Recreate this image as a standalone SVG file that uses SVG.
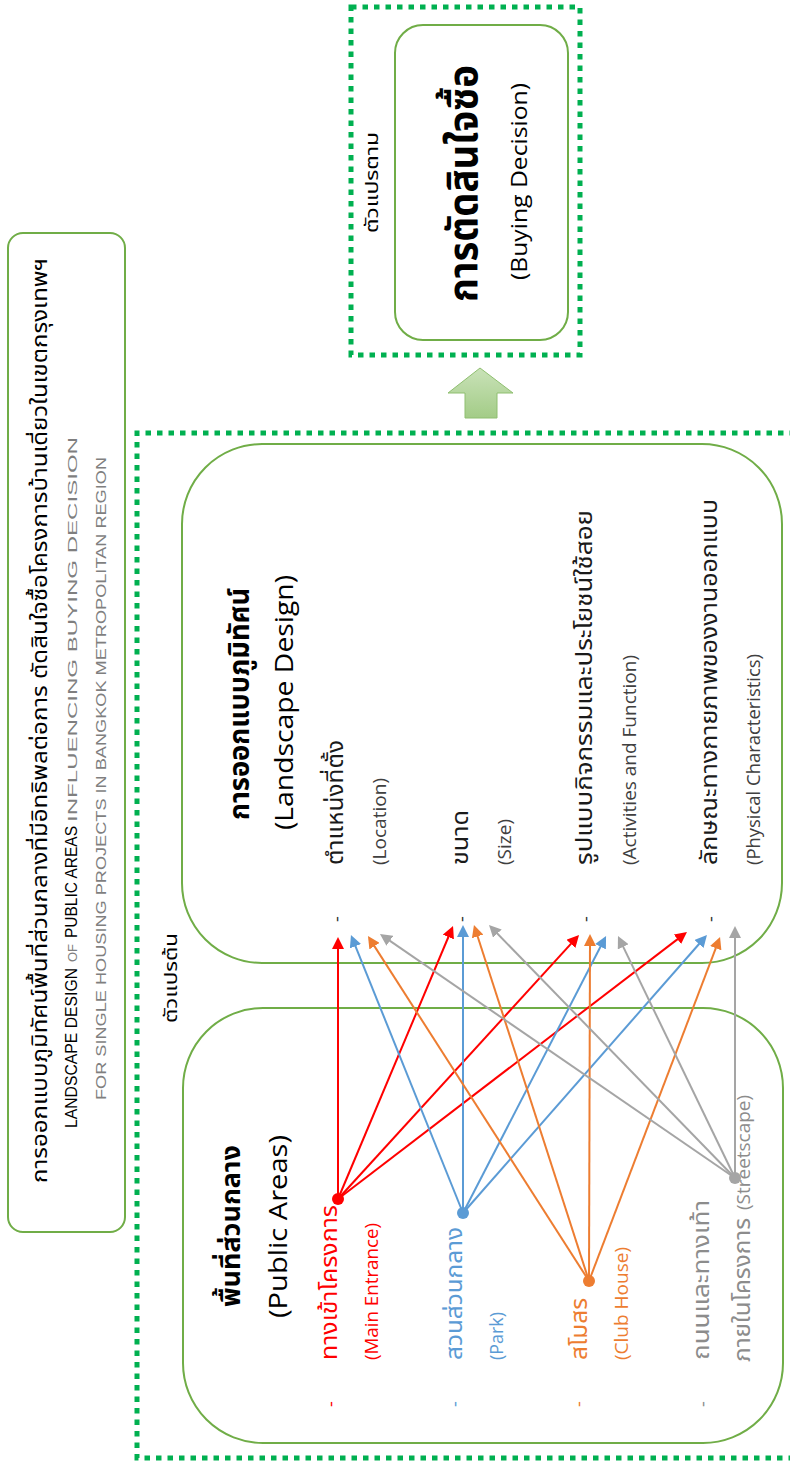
<svg xmlns="http://www.w3.org/2000/svg" width="790" height="1466" viewBox="0 0 790 1466">
<defs>
<style>
.th{font-family:"Noto Sans Thai","Leelawadee UI",Tahoma,"Noto Sans",sans-serif}
.en{font-family:"Open Sans","Noto Sans",sans-serif}
.cap{font-family:"Liberation Sans",Arial,sans-serif}
.box{fill:#fff;stroke:#70AD47;stroke-width:2}
.dash{fill:none;stroke:#00B050;stroke-width:5;stroke-dasharray:5.5 6}
.cn line{stroke-width:2;fill:none}
.r{stroke:#FF0000}.b{stroke:#5B9BD5}.o{stroke:#ED7D31}.g{stroke:#A5A5A5}
.r line{marker-end:url(#mr)}.b line{marker-end:url(#mb)}.o line{marker-end:url(#mo)}.g line{marker-end:url(#mg)}
.dk{fill:#1A1A1A}.sub{fill:#404040}
.tr{fill:#FF0000}.tb{fill:#5B9BD5}.to{fill:#ED7D31}.tg{fill:#8C8C8C}
</style>
<marker id="mr" markerUnits="userSpaceOnUse" markerWidth="12" markerHeight="12" viewBox="0 0 12 12" refX="6" refY="6" orient="auto"><path d="M0,0L12,6L0,12z" fill="#FF0000"/></marker>
<marker id="mb" markerUnits="userSpaceOnUse" markerWidth="12" markerHeight="12" viewBox="0 0 12 12" refX="6" refY="6" orient="auto"><path d="M0,0L12,6L0,12z" fill="#5B9BD5"/></marker>
<marker id="mo" markerUnits="userSpaceOnUse" markerWidth="12" markerHeight="12" viewBox="0 0 12 12" refX="6" refY="6" orient="auto"><path d="M0,0L12,6L0,12z" fill="#ED7D31"/></marker>
<marker id="mg" markerUnits="userSpaceOnUse" markerWidth="12" markerHeight="12" viewBox="0 0 12 12" refX="6" refY="6" orient="auto"><path d="M0,0L12,6L0,12z" fill="#A5A5A5"/></marker>
<linearGradient id="ga" x1="0" y1="0" x2="0" y2="1"><stop offset="0" stop-color="#C9E2B8"/><stop offset="1" stop-color="#A3CC87"/></linearGradient>
</defs>
<rect width="790" height="1466" fill="#fff"/>

<!-- dashed frames -->
<rect class="dash" x="351" y="7" width="229" height="348"/>
<path class="dash" d="M795,433H137V1458H795"/>

<!-- title -->
<g id="title">
<rect class="box" x="8" y="233" width="117" height="999" rx="15"/>
<text class="th" font-size="21" fill="#000" transform="translate(47,1183) rotate(-90)" textLength="925" lengthAdjust="spacingAndGlyphs">การออกแบบภูมิทัศน์พื้นที่ส่วนกลางที่มีอิทธิพลต่อการ ตัดสินใจซื้อโครงการบ้านเดี่ยวในเขตกรุงเทพฯ</text>
<text class="cap" transform="translate(77,1128) rotate(-90)"><tspan x="0" font-size="16" fill="#000" textLength="160" lengthAdjust="spacingAndGlyphs">LANDSCAPE DESIGN</tspan><tspan x="166" font-size="13" fill="#7F7F7F" textLength="18" lengthAdjust="spacingAndGlyphs">OF</tspan><tspan x="190" font-size="16" fill="#000" textLength="112" lengthAdjust="spacingAndGlyphs">PUBLIC AREAS</tspan><tspan x="306" font-size="13" fill="#7F7F7F" textLength="385" lengthAdjust="spacingAndGlyphs">INFLUENCING BUYING DECISION</tspan></text>
<text class="cap" font-size="14" fill="#7F7F7F" transform="translate(106,1100) rotate(-90)" textLength="643" lengthAdjust="spacingAndGlyphs">FOR SINGLE HOUSING PROJECTS IN BANGKOK METROPOLITAN REGION</text>
</g>

<!-- dependent variable -->
<g id="buying-decision">
<rect class="box" x="395" y="25" width="173" height="315" rx="28"/>
<text class="th" font-size="40" font-weight="bold" fill="#000" transform="translate(477,302) rotate(-90)" textLength="237" lengthAdjust="spacingAndGlyphs">การตัดสินใจซื้อ</text>
<text class="en" font-size="22" fill="#000" transform="translate(527,280) rotate(-90)" textLength="197" lengthAdjust="spacingAndGlyphs">(Buying Decision)</text>
</g>
<g id="label-dependent">
<text class="th" font-size="18" fill="#000" transform="translate(378,233) rotate(-90)" textLength="101" lengthAdjust="spacingAndGlyphs">ตัวแปรตาม</text>
</g>

<!-- block arrow -->
<g id="up-arrow">
<polygon points="480,368 513,393 497,393 497,418 465,418 465,393 448,393" fill="url(#ga)" stroke="#8FBF70" stroke-width="1"/>
</g>

<!-- landscape design -->
<g id="landscape-design">
<rect class="box" x="182" y="444" width="600" height="519" rx="80"/>
<text class="th" font-size="28" font-weight="bold" fill="#000" transform="translate(249,820) rotate(-90)" textLength="232" lengthAdjust="spacingAndGlyphs">การออกแบบภูมิทัศน์</text>
<text class="en" font-size="26" fill="#000" transform="translate(293,830) rotate(-90)" textLength="255" lengthAdjust="spacingAndGlyphs">(Landscape Design)</text>
<text class="th dk" font-size="23" transform="translate(343,865) rotate(-90)" textLength="125" lengthAdjust="spacingAndGlyphs">ตำแหน่งที่ตั้ง</text>
<text class="en sub" font-size="18" transform="translate(386,865) rotate(-90)" textLength="87" lengthAdjust="spacingAndGlyphs">(Location)</text>
<text class="th dk" font-size="23" transform="translate(468,865) rotate(-90)" textLength="55" lengthAdjust="spacingAndGlyphs">ขนาด</text>
<text class="en sub" font-size="18" transform="translate(511,865) rotate(-90)" textLength="46" lengthAdjust="spacingAndGlyphs">(Size)</text>
<text class="th dk" font-size="23" transform="translate(592,865) rotate(-90)" textLength="355" lengthAdjust="spacingAndGlyphs">รูปแบบกิจกรรมและประโยชน์ใช้สอย</text>
<text class="en sub" font-size="18" transform="translate(636,865) rotate(-90)" textLength="210" lengthAdjust="spacingAndGlyphs">(Activities and Function)</text>
<text class="th dk" font-size="23" transform="translate(717,865) rotate(-90)" textLength="366" lengthAdjust="spacingAndGlyphs">ลักษณะทางกายภาพของงานออกแบบ</text>
<text class="en sub" font-size="18" transform="translate(760,865) rotate(-90)" textLength="211" lengthAdjust="spacingAndGlyphs">(Physical Characteristics)</text>
<g class="en" font-size="18" fill="#333" text-anchor="middle">
<text transform="translate(343,919) rotate(-90)">-</text>
<text transform="translate(468,919) rotate(-90)">-</text>
<text transform="translate(592,919) rotate(-90)">-</text>
<text transform="translate(717,919) rotate(-90)">-</text>
</g>
</g>

<!-- independent variable label -->
<g id="label-independent">
<text class="th" font-size="18" fill="#000" transform="translate(177,1023) rotate(-90)" textLength="90" lengthAdjust="spacingAndGlyphs">ตัวแปรต้น</text>
</g>

<!-- public areas -->
<g id="public-areas">
<rect class="box" x="183" y="1008" width="600" height="435" rx="80"/>
<text class="th" font-size="27" font-weight="bold" fill="#000" transform="translate(240,1307) rotate(-90)" textLength="162" lengthAdjust="spacingAndGlyphs">พื้นที่ส่วนกลาง</text>
<text class="en" font-size="26" fill="#000" transform="translate(287,1318) rotate(-90)" textLength="183" lengthAdjust="spacingAndGlyphs">(Public Areas)</text>
<text class="th tr" font-size="23" transform="translate(337,1360) rotate(-90)" textLength="155" lengthAdjust="spacingAndGlyphs">ทางเข้าโครงการ</text>
<text class="en tr" font-size="18" transform="translate(378,1360) rotate(-90)" textLength="137" lengthAdjust="spacingAndGlyphs">(Main Entrance)</text>
<text class="th tb" font-size="23" transform="translate(462,1360) rotate(-90)" textLength="133" lengthAdjust="spacingAndGlyphs">สวนส่วนกลาง</text>
<text class="en tb" font-size="18" transform="translate(503,1360) rotate(-90)" textLength="48" lengthAdjust="spacingAndGlyphs">(Park)</text>
<text class="th to" font-size="23" transform="translate(587,1360) rotate(-90)" textLength="62" lengthAdjust="spacingAndGlyphs">สโมสร</text>
<text class="en to" font-size="18" transform="translate(628,1360) rotate(-90)" textLength="113" lengthAdjust="spacingAndGlyphs">(Club House)</text>
<text class="th tg" font-size="23" transform="translate(709,1360) rotate(-90)" textLength="160" lengthAdjust="spacingAndGlyphs">ถนนและทางเท้า</text>
<text class="tg" transform="translate(750,1362) rotate(-90)"><tspan class="th" x="0" font-size="23" textLength="144" lengthAdjust="spacingAndGlyphs">ภายในโครงการ</tspan><tspan class="en" x="152" font-size="18" textLength="115" lengthAdjust="spacingAndGlyphs">(Streetscape)</tspan></text>
<g class="en" font-size="18" text-anchor="middle">
<text class="tr" transform="translate(337,1404) rotate(-90)">-</text>
<text class="tb" transform="translate(461,1404) rotate(-90)">-</text>
<text class="to" transform="translate(585,1404) rotate(-90)">-</text>
<text class="tg" transform="translate(709,1404) rotate(-90)">-</text>
</g>
</g>

<!-- connectors -->
<g id="connectors" class="cn">
<g class="r">
<line x1="338" y1="1199" x2="338" y2="943"/>
<line x1="338" y1="1199" x2="450.7" y2="931.5"/>
<line x1="338" y1="1199" x2="575" y2="939.4"/>
<line x1="338" y1="1199" x2="682.2" y2="935.6"/>
</g>
<g class="b">
<line x1="463" y1="1213" x2="353.2" y2="940.6"/>
<line x1="463" y1="1213" x2="463" y2="931"/>
<line x1="463" y1="1213" x2="603.3" y2="941.3"/>
<line x1="463" y1="1213" x2="703" y2="939.5"/>
</g>
<g class="o">
<line x1="589" y1="1281" x2="371.2" y2="941.1"/>
<line x1="589" y1="1281" x2="475.8" y2="930.7"/>
<line x1="589" y1="1281" x2="590" y2="940"/>
<line x1="589" y1="1281" x2="717.9" y2="942.6"/>
</g>
<g class="g">
<line x1="735" y1="1178" x2="384.9" y2="937.4"/>
<line x1="735" y1="1178" x2="493.2" y2="929.3"/>
<line x1="735" y1="1178" x2="620.6" y2="941.4"/>
<line x1="735" y1="1178" x2="735" y2="932"/>
</g>
<circle cx="338" cy="1199" r="6" fill="#FF0000"/>
<circle cx="463" cy="1213" r="6" fill="#5B9BD5"/>
<circle cx="589" cy="1281" r="6" fill="#ED7D31"/>
<circle cx="735" cy="1178" r="6" fill="#A5A5A5"/>
</g>
</svg>
